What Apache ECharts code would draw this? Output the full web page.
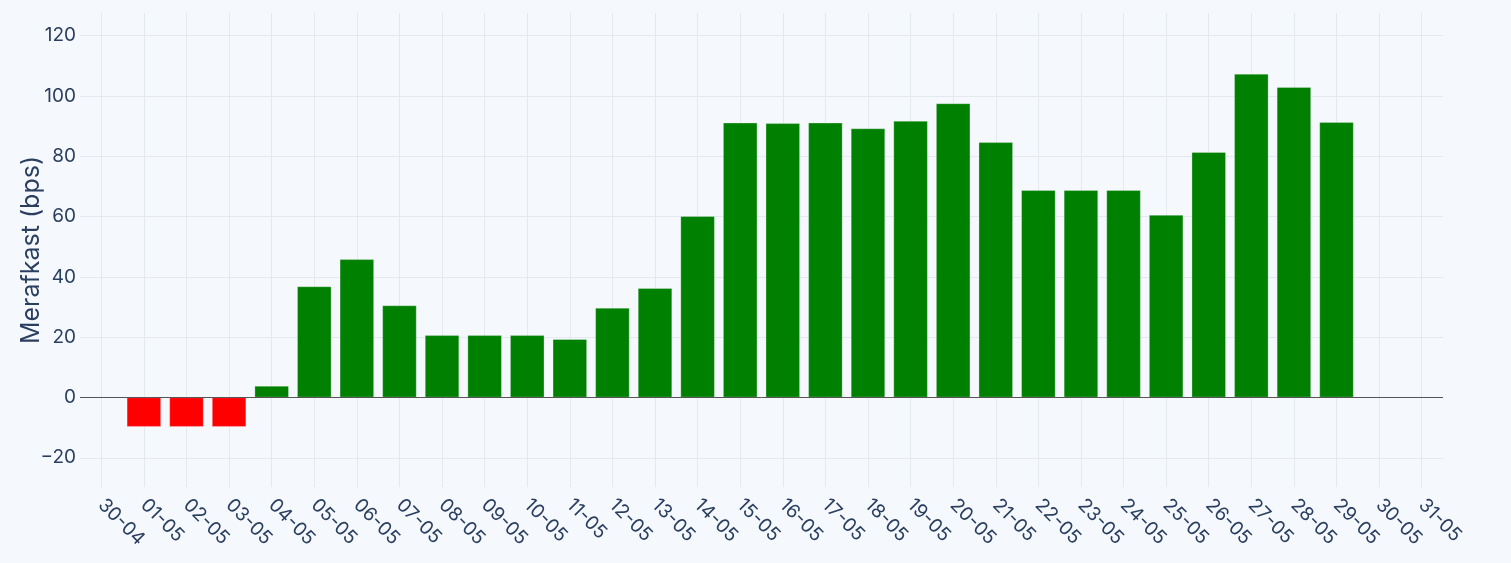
<!DOCTYPE html>
<html>
<head>
<meta charset="UTF-8" />
<title>Merafkast</title>
<script src="https://cdn.jsdelivr.net/npm/echarts@6/dist/echarts.min.js"></script>
<style>
  html, body { margin: 0; padding: 0; background: #f5f8fd; }
  #main { width: 1511px; height: 563px; }
</style>
</head>
<body>
<div id="main"></div>
<script>
// categorieen (dag-maand)
var dagen = ['30-04', '01-05', '02-05', '03-05', '04-05', '05-05', '06-05', '07-05',
  '08-05', '09-05', '10-05', '11-05', '12-05', '13-05', '14-05', '15-05', '16-05',
  '17-05', '18-05', '19-05', '20-05', '21-05', '22-05', '23-05', '24-05', '25-05',
  '26-05', '27-05', '28-05', '29-05', '30-05', '31-05'];
// merafkast in bps, null = geen waarde
var merafkast = [null, -9.7, -9.7, -9.7, 3.8, 36.8, 45.8, 30.5,
  20.6, 20.6, 20.6, 19.3, 29.7, 36.2, 60.1, 91.1, 90.9,
  91.1, 89.2, 91.7, 97.5, 84.6, 68.7, 68.7, 68.7, 60.5,
  81.3, 107.3, 102.9, 91.3, null, null];

var tekst = '#2a3f5f';
var rooster = '#e4e8ef';
var lettertype = 'Inter';

var myChart = echarts.init(document.getElementById('main'));
myChart.setOption({
  backgroundColor: '#f5f8fd',
  animation: false,
  textStyle: { fontFamily: lettertype },
  grid: { left: 80, right: 68, top: 13, bottom: 76, containLabel: false },
  xAxis: {
    type: 'category',
    data: dagen,
    axisLine: { show: false },
    axisTick: { show: false },
    axisLabel: {
      interval: 0,
      rotate: -45,
      margin: 15,
      color: tekst,
      fontSize: 19,
      fontFamily: lettertype
    },
    splitLine: {
      show: true,
      interval: 0,
      alignWithLabel: true,
      lineStyle: { color: rooster, width: 1 }
    }
  },
  yAxis: {
    type: 'value',
    min: -29.7,
    max: 127.5,
    splitNumber: 8,
    name: 'Merafkast (bps)',
    nameLocation: 'middle',
    nameMoveOverlap: false,
    nameGap: 36,
    nameTextStyle: { color: tekst, fontSize: 25, fontFamily: lettertype },
    axisLine: { show: false },
    axisTick: { show: false },
    axisLabel: {
      showMinLabel: false,
      showMaxLabel: false,
      margin: 4,
      color: tekst,
      fontSize: 19,
      fontFamily: lettertype,
      formatter: function (v) { return v < 0 ? '\u2212' + Math.abs(v) : String(v); }
    },
    splitLine: {
      show: true,
      showMinLine: false,
      showMaxLine: false,
      lineStyle: { color: rooster, width: 1 }
    }
  },
  series: [{
    type: 'bar',
    data: merafkast,
    barCategoryGap: '20%',
    itemStyle: {
      color: function (p) { return p.value < 0 ? '#ff0000' : '#008000'; },
      borderColor: 'rgba(245,248,253,0.6)',
      borderWidth: 0.5
    },
    markLine: {
      silent: true,
      symbol: ['none', 'none'],
      label: { show: false },
      lineStyle: { color: '#555', width: 1, type: 'solid' },
      data: [{ yAxis: 0 }]
    }
  }]
});
</script>
</body>
</html>
